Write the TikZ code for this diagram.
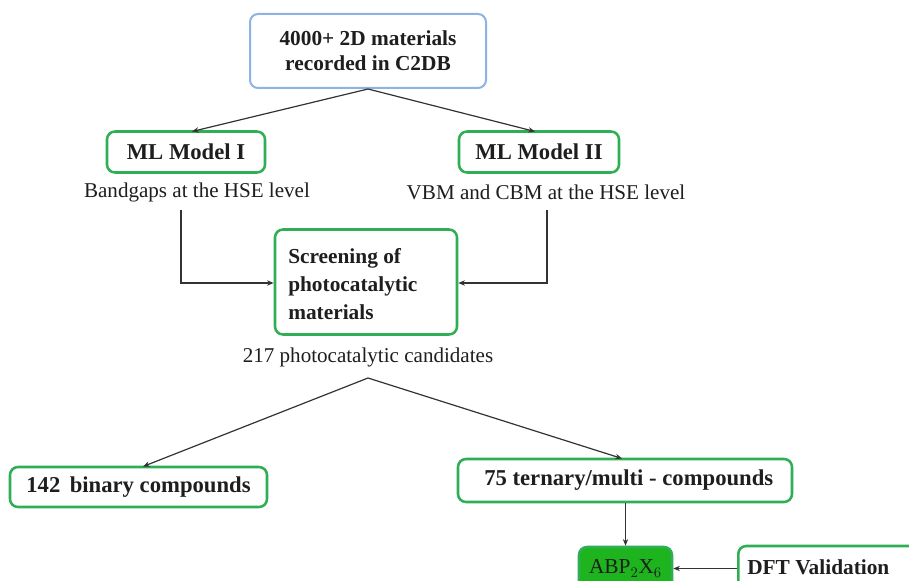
\documentclass[tikz,border=0pt]{standalone}
\usepackage{fontspec}
\setmainfont{Liberation Serif}
\usetikzlibrary{arrows.meta}
\definecolor{gbord}{HTML}{2FAE55}
\definecolor{bbord}{HTML}{8DB3E2}
\definecolor{gfill}{HTML}{1DB41D}
\definecolor{txt}{HTML}{1E1E1E}
\definecolor{conn}{HTML}{333333}
\tikzset{
  box/.style={draw=gbord, line width=1.9pt, rounded corners=6pt, inner sep=0pt, text=txt, font=\fontsize{16}{19}\selectfont\bfseries},
  bigbox/.style={box, font=\fontsize{17}{20}\selectfont\bfseries},
  topbox/.style={box, draw=bbord, line width=1.5pt, align=center, font=\fontsize{16}{19}\selectfont\bfseries},
  lbl/.style={text=txt, inner sep=0pt, font=\fontsize{15.8}{19}\selectfont},
  btxt/.style={text=txt, inner sep=0pt, font=\fontsize{16}{21}\selectfont\bfseries},
  conn/.style={draw=conn, line width=0.9pt, -{Stealth[length=5pt,width=4pt]}},
}
\begin{document}
\begin{tikzpicture}[x=0.75pt, y=-0.75pt]
\useasboundingbox (0,0) rectangle (909,581);
\clip (0,0) rectangle (909,581);
\fill[white] (0,0) rectangle (909,581);

\node[topbox, minimum width=177pt, minimum height=55.5pt] (top) at (368,51)
  {4000+ 2D materials\\recorded in C2DB};
\node[bigbox, minimum width=118.5pt, minimum height=30.75pt] (ml1) at (186,152) {ML Model I};
\node[bigbox, minimum width=120pt, minimum height=30.75pt] (ml2) at (539,152) {ML Model II};
\node[lbl] (bg) at (197,192) {Bandgaps at the HSE level};
\node[lbl] (vbm) at (546,192) {VBM and CBM at the HSE level};

\node[box, minimum width=136.5pt, minimum height=78.75pt] (scr) at (366,282) {};
\node[btxt, anchor=west, align=left] (scrt) at (288,284) {Screening of\\photocatalytic\\materials};
\node[lbl] (cand) at (368,357) {217 photocatalytic candidates};

\node[bigbox, minimum width=192.75pt, minimum height=30pt] (bin) at (138.5,487) {142\, binary compounds};
\node[bigbox, minimum width=250.5pt, minimum height=32.25pt] (ter) at (625,480.5) {\,\,75 ternary/multi - compounds};
\node[box, fill=gfill, minimum width=69.75pt, minimum height=32.25pt, font=\fontsize{16}{19}\selectfont] (abp) at (625.5,568.5) {ABP$_2$X$_6$};
\node[box, minimum width=142.5pt, minimum height=33.75pt, anchor=west] (dft) at (737,568.5) {};
\node[btxt, anchor=west] (dftt) at (747,567) {DFT Validation};

\coordinate (c1) at (181,210);
\coordinate (c1b) at (181,283);
\coordinate (c2) at (547,210);
\coordinate (c2b) at (547,283);
\coordinate (split) at (368,378);

\draw[conn] (top.south) -- (192,131.5);
\draw[conn] (top.south) -- (535,131.5);
\draw[conn] (c1) -- (c1b) -- (c1b -| scr.west);
\draw[conn] (c2) -- (c2b) -- (c2b -| scr.east);
\draw[conn] (split) -- (143,466.5);
\draw[conn] (split) -- (622,458.5);
\draw[conn] (ter.south -| abp.north) -- (abp.north);
\draw[conn] (dft.west) -- (abp.east);
\end{tikzpicture}
\end{document}
